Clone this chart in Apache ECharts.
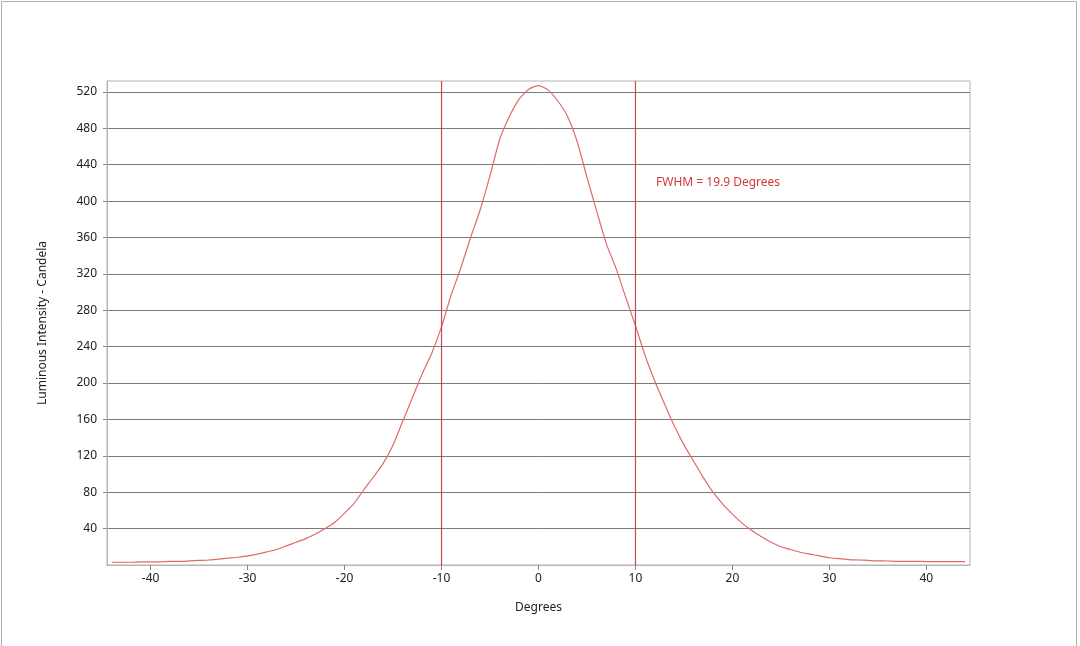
<!DOCTYPE html>
<html>
<head>
<meta charset="utf-8">
<script src="https://cdn.jsdelivr.net/npm/echarts@6/dist/echarts.min.js"></script>
<style>
html, body { margin: 0; padding: 0; background: #fff; }
#chart { width: 1080px; height: 646px; }
</style>
</head>
<body>
<div id="chart"></div>
<script>
/** beam profile: luminous intensity vs angle */
var degrees = [-44, -43, -42, -41, -40, -39, -38, -37, -36, -35, -34, -33, -32, -31, -30,
    -29, -28, -27, -26, -25, -24, -23, -22, -21, -20, -19, -18, -17, -16, -15,
    -14, -13, -12, -11, -10, -9, -8, -7, -6, -5, -4, -3, -2, -1, 0,
    1, 2, 3, 4, 5, 6, 7, 8, 9, 10, 11, 12, 13, 14, 15,
    16, 17, 18, 19, 20, 21, 22, 23, 24, 25, 26, 27, 28, 29, 30,
    31, 32, 33, 34, 35, 36, 37, 38, 39, 40, 41, 42, 43, 44];
var intensity = [3, 3, 3, 3.5, 3.5, 3.5, 4, 4, 4.5, 5, 5.5, 6.5, 7.5, 8.5, 10,
    12, 14.5, 17, 21, 25, 29, 34, 40, 47, 57, 68, 83, 97, 112, 132,
    158, 184, 210, 233, 262, 297, 327, 360, 391, 428, 468, 493, 512, 523, 527,
    522, 510, 493, 465, 426, 389, 353, 326, 294, 263, 230, 202, 177, 153, 132,
    114, 96, 80, 67, 56, 46, 38, 31, 25, 20, 17, 14, 12, 10, 8,
    7, 6, 5.5, 5, 4.5, 4.4, 4, 4, 4, 3.8, 3.8, 3.7, 3.6, 3.6];
var fwhmEdges = [-10, 10];
var xTicks = [-40, -30, -20, -10, 0, 10, 20, 30, 40];
var yTicks = [40, 80, 120, 160, 200, 240, 280, 320, 360, 400, 440, 480, 520];
var yMin = 0;
var yMax = 532;

var points = [];
for (var i = 0; i < degrees.length; i++) {
    points.push([degrees[i], intensity[i]]);
}

// FWHM edge lines, one series each
var edgeSeries = fwhmEdges.map(function (v) {
    return {
        type: 'line',
        data: [[v, yMin], [v, yMax]],
        showSymbol: false,
        silent: true,
        z: 5,
        color: '#c44a4a',
        lineStyle: { color: '#c44a4a', width: 1.2, opacity: 1 }
    };
});

var chart = echarts.init(document.getElementById('chart'));
chart.setOption({
    animation: false,
    backgroundColor: '#fff',
    textStyle: { fontFamily: 'Noto Sans, sans-serif' },
    grid: {
        left: 107,
        right: 110,
        top: 81,
        bottom: 81,
        show: true,
        borderColor: '#b4b4b4',
        borderWidth: 1
    },
    graphic: [{
        type: 'rect',
        shape: { x: 1.5, y: 1.5, width: 1075, height: 700 },
        style: { fill: 'none', stroke: '#b0b0b0', lineWidth: 1 },
        silent: true
    }, {
        type: 'text',
        left: 656,
        top: 177,
        style: {
            text: 'FWHM = 19.9 Degrees',
            fill: '#d23a3a',
            font: '12px Noto Sans, sans-serif'
        }
    }],
    xAxis: {
        type: 'value',
        min: -44.5,
        max: 44.5,
        name: 'Degrees',
        nameLocation: 'middle',
        nameGap: 37,
        nameTextStyle: { color: '#222', fontSize: 12 },
        axisLine: { show: true, onZero: false, lineStyle: { color: '#b4b4b4' } },
        axisTick: { show: true, length: 5, lineStyle: { color: '#888' }, customValues: xTicks },
        axisLabel: { color: '#222', fontSize: 12, margin: 8, customValues: xTicks },
        splitLine: { show: false }
    },
    yAxis: {
        type: 'value',
        min: yMin,
        max: yMax,
        name: 'Luminous Intensity - Candela',
        nameLocation: 'middle',
        nameGap: 58,
        nameTextStyle: { color: '#222', fontSize: 12 },
        axisLine: { show: true, onZero: false, lineStyle: { color: '#b4b4b4' } },
        axisTick: { show: true, length: 4, lineStyle: { color: '#888' }, customValues: yTicks },
        axisLabel: { color: '#222', fontSize: 12, margin: 10, customValues: yTicks },
        splitLine: { show: true, lineStyle: { color: '#7a7a7a', width: 1 } }
    },
    series: [{
        type: 'line',
        data: points,
        showSymbol: false,
        smooth: 0.2,
        z: 4,
        color: '#e06a6a',
        lineStyle: { color: '#e06a6a', width: 1.2 }
    }].concat(edgeSeries)
});
</script>
</body>
</html>
